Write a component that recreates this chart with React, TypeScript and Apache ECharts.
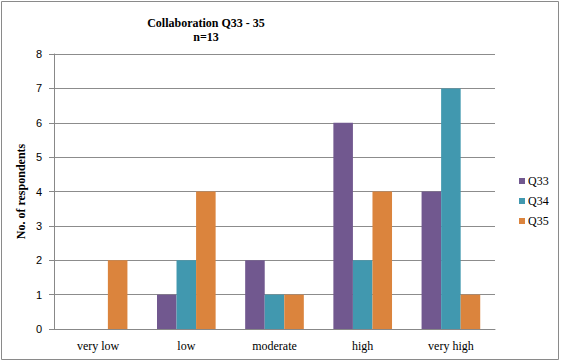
import React, { useEffect, useRef } from "react";
import * as echarts from "echarts";

const categories = ["very low", "low", "moderate", "high", "very high"];
const q33 = [0, 1, 2, 6, 4];
const q34 = [0, 2, 1, 2, 7];
const q35 = [2, 4, 1, 4, 1];
const seriesNames = ["Q33", "Q34", "Q35"];
const colors = ["#71588F", "#4198AF", "#DB843D"];

export default function App() {
  const ref = useRef<HTMLDivElement>(null);
  useEffect(() => {
    document.body.style.margin = "0";
    const chart = echarts.init(ref.current!, null, { renderer: "svg" });
    const serif = "'Liberation Serif', 'DejaVu Serif', serif";
    const sans = "'Liberation Sans', sans-serif";
    const data = [q33, q34, q35];
    chart.setOption({
      animation: false,
      backgroundColor: "#ffffff",
      title: {
        text: "Collaboration Q33 - 35\nn=13",
        left: 201,
        textAlign: "center",
        top: 11,
        textStyle: { fontFamily: serif, fontSize: 12, fontWeight: "bold", color: "#000", lineHeight: 14 },
      },
      graphic: [
        {
          type: "rect",
          shape: { x: 1.5, y: 1.5, width: 557, height: 358 },
          style: { fill: "none", stroke: "#8a8a8a", lineWidth: 1 },
          silent: true,
        },
      ],
      legend: {
        orient: "vertical",
        left: 514,
        top: 170,
        itemWidth: 6,
        itemHeight: 6,
        itemGap: 8,
        icon: "rect",
        textStyle: { fontFamily: serif, fontSize: 12, color: "#000", padding: [0, 0, 0, -2] },
        data: seriesNames,
      },
      grid: { left: 54, right: 66, top: 54, bottom: 33 },
      xAxis: {
        type: "category",
        data: categories,
        axisLine: { lineStyle: { color: "#888", width: 1 } },
        axisTick: { show: false },
        axisLabel: { fontFamily: serif, fontSize: 12, color: "#000", margin: 11 },
      },
      yAxis: {
        type: "value",
        min: 0,
        max: 8,
        interval: 1,
        name: "No. of respondents",
        nameLocation: "middle",
        nameGap: 27,
        nameMoveOverlap: false,
        nameTextStyle: { fontFamily: serif, fontSize: 12, fontWeight: "bold", color: "#000" },
        axisLine: { show: true, lineStyle: { color: "#888", width: 1 } },
        axisTick: { show: true, length: 5, lineStyle: { color: "#888" } },
        axisLabel: { fontFamily: sans, fontSize: 11, color: "#000", margin: 12 },
        splitLine: { lineStyle: { color: "#8c8c8c", width: 1 } },
      },
      series: seriesNames.map((name, i) => ({
        name,
        type: "bar",
        data: data[i],
        barGap: "0%",
        barCategoryGap: "33.5%",
        itemStyle: { color: colors[i] },
      })),
    });
    return () => chart.dispose();
  }, []);
  return <div ref={ref} style={{ width: 561, height: 362 }} />;
}
